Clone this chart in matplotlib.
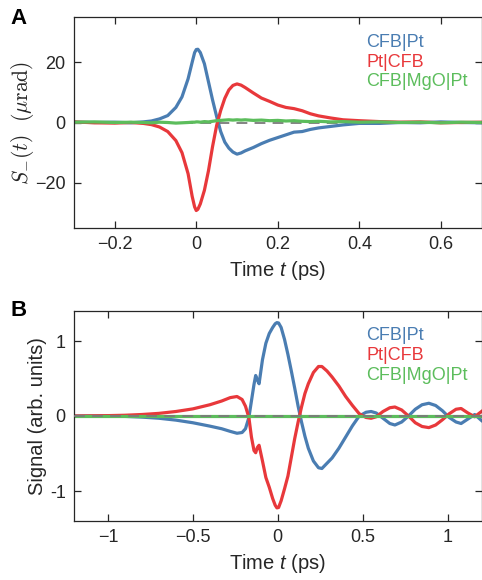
import matplotlib
matplotlib.use("Agg")
import matplotlib.pyplot as plt

plt.rcParams['font.family'] = ['Liberation Sans', 'DejaVu Sans']
plt.rcParams['mathtext.fontset'] = 'custom'
plt.rcParams['mathtext.it'] = 'Liberation Sans:italic'
plt.rcParams['mathtext.rm'] = 'Liberation Sans'

# ---------------- Data ----------------
series_names = ["CFB|Pt", "Pt|CFB", "CFB|MgO|Pt"]

tA = [-0.30, -0.25, -0.20, -0.16, -0.13, -0.11, -0.09, -0.07, -0.05, -0.035, -0.02, -0.01,
      -0.004, 0.0, 0.004, 0.01, 0.02, 0.03, 0.04, 0.05, 0.06, 0.07, 0.08, 0.09, 0.10, 0.11,
      0.12, 0.14, 0.16, 0.18, 0.20, 0.22, 0.24, 0.26, 0.28, 0.30, 0.33, 0.36, 0.40, 0.45,
      0.50, 0.55, 0.60, 0.65, 0.70]
blueA = [0.1, 0.0, 0.1, -0.1, 0.2, 0.5, 1.2, 2.3, 5.0, 8.5, 14.5, 20.0,
         23.2, 24.2, 24.3, 23.2, 19.5, 13.5, 7.5, 2.0, -3.0, -6.5, -8.5, -9.8, -10.5, -10.1,
         -9.4, -8.3, -7.0, -5.9, -5.0, -4.1, -3.2, -3.0, -2.3, -1.8, -1.3, -0.8, -0.3, -0.3,
         0.0, -0.1, 0.2, 0.0, -0.1]
redA = [0.2, -0.1, -0.2, 0.0, -0.3, -0.7, -1.5, -3.0, -6.0, -10.0, -17.0, -24.5,
        -28.0, -29.2, -28.8, -27.0, -22.5, -16.0, -8.0, -1.0, 4.0, 8.0, 10.8, 12.3, 12.8, 12.4,
        11.6, 9.8, 8.1, 7.0, 5.8, 5.0, 4.6, 3.9, 2.9, 2.2, 1.5, 0.9, 0.6, 0.3,
        0.1, 0.2, -0.1, 0.0, 0.1]
greenA = [0.1, 0.2, 0.0, 0.1, 0.0, -0.1, 0.1, 0.0, -0.2, -0.1, 0.0, 0.1,
          0.1, 0.2, 0.2, 0.1, 0.3, 0.2, 0.4, 0.6, 0.7, 0.8, 0.9, 0.8, 0.9, 0.8,
          0.9, 0.7, 0.8, 0.6, 0.7, 0.5, 0.6, 0.4, 0.3, 0.4, 0.2, 0.3, 0.1, 0.2,
          0.0, 0.1, -0.1, 0.1, 0.0]

tB = [-1.2, -1.0, -0.9, -0.8, -0.7, -0.6, -0.5, -0.4, -0.33, -0.28, -0.24, -0.21, -0.19,
      -0.17, -0.155, -0.14, -0.13, -0.12, -0.11, -0.09, -0.07, -0.05, -0.03, -0.015, -0.005,
      0.005, 0.02, 0.04, 0.06, 0.08, 0.10, 0.12, 0.14, 0.16, 0.18, 0.21, 0.24, 0.26, 0.29,
      0.32, 0.36, 0.40, 0.44, 0.48, 0.52, 0.55, 0.58, 0.62, 0.66, 0.69, 0.73, 0.77, 0.81,
      0.85, 0.89, 0.93, 0.97, 1.01, 1.05, 1.08, 1.12, 1.16, 1.2]
blueB = [0.0, 0.0, -0.005, -0.015, -0.03, -0.055, -0.09, -0.135, -0.17, -0.205, -0.23, -0.22, -0.17,
         -0.02, 0.2, 0.42, 0.54, 0.48, 0.43, 0.75, 0.97, 1.1, 1.18, 1.23, 1.245,
         1.24, 1.18, 1.02, 0.82, 0.6, 0.37, 0.13, -0.08, -0.27, -0.43, -0.6, -0.69, -0.70, -0.63,
         -0.56, -0.43, -0.28, -0.13, 0.0, 0.05, 0.06, 0.04, -0.03, -0.1, -0.12, -0.08, 0.0, 0.09,
         0.15, 0.17, 0.14, 0.07, -0.02, -0.08, -0.1, -0.04, 0.02, -0.06]
redB = [0.0, 0.005, 0.01, 0.02, 0.035, 0.06, 0.095, 0.15, 0.2, 0.245, 0.26, 0.22, 0.13,
        -0.02, -0.28, -0.46, -0.49, -0.42, -0.39, -0.6, -0.82, -0.95, -1.1, -1.19, -1.225,
        -1.22, -1.13, -0.97, -0.8, -0.55, -0.3, -0.08, 0.12, 0.3, 0.43, 0.58, 0.66, 0.66, 0.6,
        0.52, 0.4, 0.26, 0.14, 0.03, -0.02, -0.03, -0.01, 0.06, 0.11, 0.12, 0.08, 0.0, -0.09,
        -0.14, -0.155, -0.12, -0.05, 0.03, 0.09, 0.1, 0.04, -0.01, 0.06]
greenB = [0.0] * len(tB)

colors = ["#4a7db2", "#e8383b", "#5cbd5c"]

# ---------------- Figure ----------------
W, H = 482, 580
fig = plt.figure(figsize=(W / 100, H / 100), dpi=100)

def px_axes(l, t, r, b):
    return fig.add_axes([l / W, 1 - b / H, (r - l) / W, (b - t) / H])

axA = px_axes(74, 17, 481.5, 228)
axB = px_axes(74, 311, 481.5, 521)

gray = "#262626"

def style(ax):
    ax.tick_params(direction='in', top=True, right=True, length=5, width=0.9,
                   labelsize=13, colors=gray, pad=6)
    for s in ax.spines.values():
        s.set_color(gray)
        s.set_linewidth(0.9)

lw = 2.3
# Panel A
axA.axhline(0, color="#7a7a7a", lw=1.3, ls=(0, (6, 4)), zorder=1)
for y, c, n in zip([blueA, redA, greenA], colors, series_names):
    axA.plot(tA, y, color=c, lw=lw, label=n, solid_joinstyle='round', zorder=2)
axA.set_xlim(-0.3, 0.7)
axA.set_ylim(-35, 35)
axA.set_xticks([-0.2, 0, 0.2, 0.4, 0.6])
axA.set_xticklabels(["\u22120.2", "0", "0.2", "0.4", "0.6"])
axA.set_yticks([-20, 0, 20])
axA.set_yticklabels(["\u221220", "0", "20"])
style(axA)
axA.set_xlabel("Time $t$ (ps)", fontsize=14.5, color=gray, labelpad=4)
axA.set_ylabel(r"$S_{-}(t)\ \ (\mu\mathrm{rad})$", fontsize=15.5, color=gray,
               math_fontfamily='cm', labelpad=-1)

# Panel B
for y, c, n in zip([blueB, redB, greenB], colors, series_names):
    axB.plot(tB, y, color=c, lw=lw, label=n, solid_joinstyle='round', zorder=2)
axB.axhline(0, color="#7a7a7a", lw=1.3, ls=(0, (6, 4)), zorder=3)
axB.set_xlim(-1.2, 1.2)
axB.set_ylim(-1.4, 1.4)
axB.set_xticks([-1, -0.5, 0, 0.5, 1])
axB.set_xticklabels(["\u22121", "\u22120.5", "0", "0.5", "1"])
axB.set_yticks([-1, 0, 1])
axB.set_yticklabels(["-1", "0", "1"])
style(axB)
axB.set_xlabel("Time $t$ (ps)", fontsize=14.5, color=gray, labelpad=4)
axB.set_ylabel("Signal (arb. units)", fontsize=14.5, color=gray, labelpad=2)

for ax, top in ((axA, 0.962), (axB, 0.965)):
    leg = ax.legend(loc='upper left', bbox_to_anchor=(0.695, top), frameon=False,
                    handlelength=0, handletextpad=0, labelspacing=0.15,
                    borderpad=0, fontsize=13, labelcolor='linecolor')
    for h in leg.legend_handles:
        h.set_visible(False)

fig.text(10 / W, 1 - 18 / H, "A", fontsize=16, fontweight='bold', va='center', ha='left')
fig.text(10 / W, 1 - 311 / H, "B", fontsize=16, fontweight='bold', va='center', ha='left')

fig.savefig("out.png", dpi=100)
